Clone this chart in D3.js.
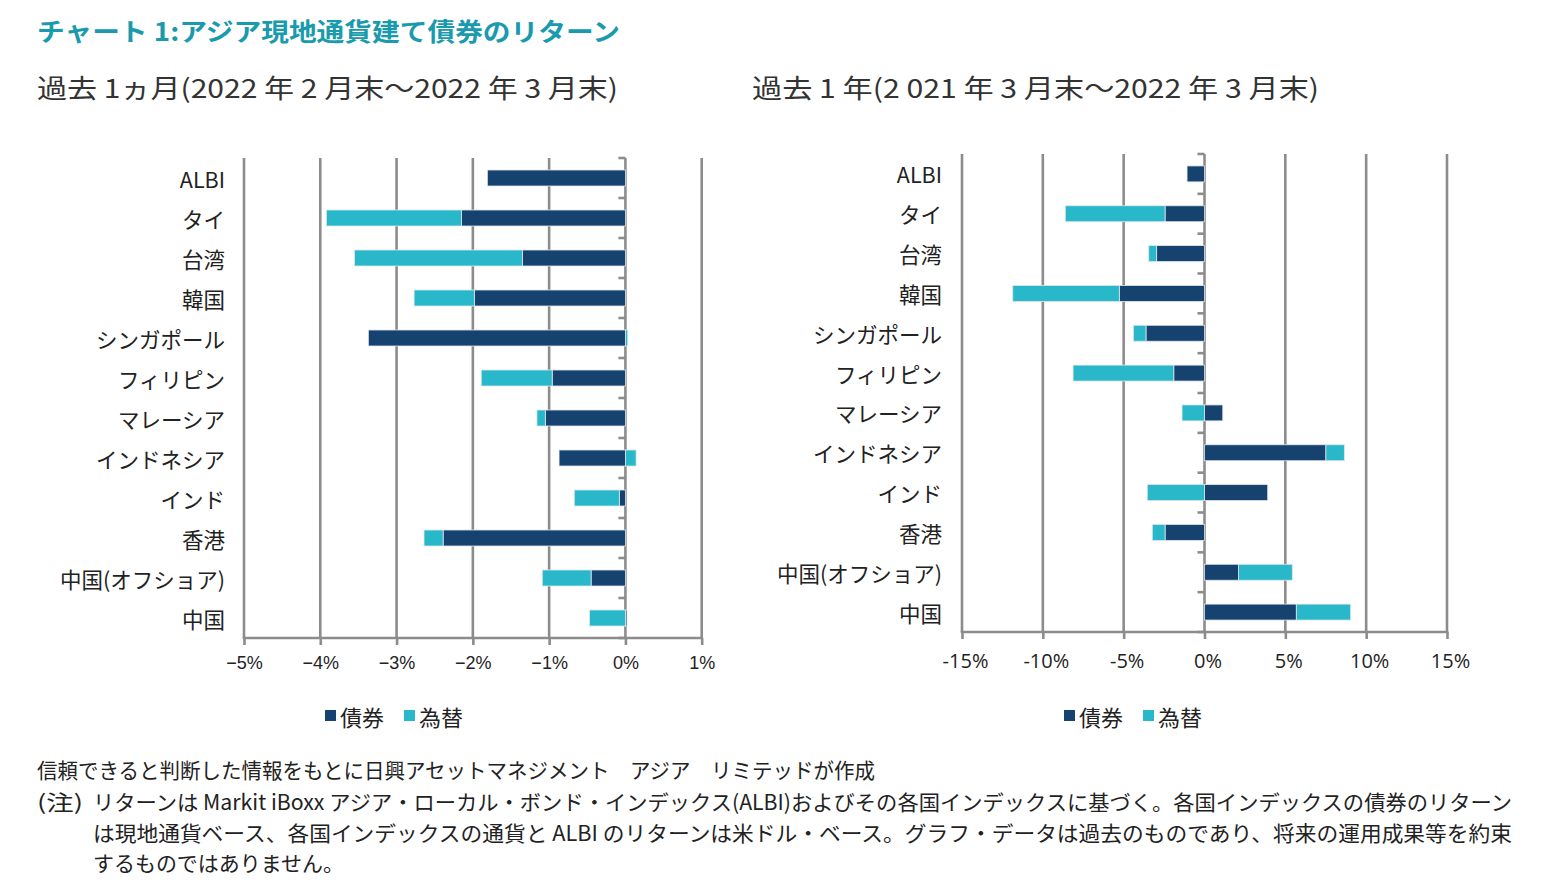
<!DOCTYPE html>
<html><head><meta charset="utf-8">
<script src="https://cdn.jsdelivr.net/npm/d3@7"></script>
<style>
html,body{margin:0;padding:0;background:#fff;}
svg{display:block;}
</style></head>
<body>
<svg id="c" width="1544" height="893"></svg>
<script>
const categories = ["ALBI","タイ","台湾","韓国","シンガポール","フィリピン","マレーシア","インドネシア","インド","香港","中国(オフショア)","中国"];
// 過去1ヵ月 (%)
const bond1m = [-1.81,-2.15,-1.35,-1.98,-3.37,-0.96,-1.05,-0.87,-0.08,-2.39,-0.45,0.02];
const fx1m   = [0.00,-1.77,-2.20,-0.79,0.03,-0.93,-0.11,0.14,-0.59,-0.25,-0.64,-0.47];
// 過去1年 (%)
const bond1y = [-1.08,-2.44,-2.96,-5.27,-3.62,-1.90,1.13,7.51,3.91,-2.44,2.11,5.68];
const fx1y   = [0.00,-6.17,-0.49,-6.59,-0.78,-6.23,-1.39,1.14,-3.54,-0.79,3.32,3.36];
const ticks1m = [-5,-4,-3,-2,-1,0,1];
const tickLabels1m = ["−5%","−4%","−3%","−2%","−1%","0%","1%"];
const ticks1y = [-15,-10,-5,0,5,10,15];
const tickLabels1y = ["-15%","-10%","-5%","0%","5%","10%","15%"];
const seriesNames = ["債券","為替"];
const seriesKeys = ["bond","fx"];

const colors = {bond:"#15426f", fx:"#29b7ca"};
const gridColor = "#8c8c8c";
const jp = "'Noto Sans CJK JP', sans-serif";
const svg = d3.select("#c");

function drawChart(opt){
  const rows = categories.map((c,i)=>({cat:c, bond:opt.bond[i], fx:opt.fx[i]}));
  const x = d3.scaleLinear().domain(opt.domain).range([opt.x0, opt.x1]);
  const y = d3.scaleBand().domain(categories).range([opt.y0, opt.y1]).paddingInner(0.6).paddingOuter(0.3);
  const yb = d3.scaleBand().domain(categories).range([opt.y0, opt.y1]);
  const g = svg.append("g");
  // gridlines
  g.selectAll("line.grid").data(opt.ticks).join("line")
    .attr("x1",d=>x(d)).attr("x2",d=>x(d)).attr("y1",opt.y0).attr("y2",opt.y1)
    .attr("stroke",gridColor).attr("stroke-width",2.6);
  // bottom axis
  const ax = g.append("g").attr("transform",`translate(0,${opt.y1})`)
    .call(d3.axisBottom(x).tickValues(opt.ticks).tickSize(7).tickPadding(opt.tickPad)
      .tickFormat((d,i)=>opt.tickLabels[i]));
  ax.select(".domain").attr("stroke",gridColor).attr("stroke-width",2.6)
    .attr("d",`M${opt.x0-1.3},0H${opt.x1+1.3}`);
  ax.selectAll(".tick line").attr("stroke",gridColor).attr("stroke-width",2.6);
  ax.selectAll(".tick text").attr("fill","#222").attr("font-family",opt.tickFont)
    .attr("font-size",opt.tickSize).attr("dx",opt.tickDx||0);
  // category ticks at zero
  const bounds = categories.map(c=>yb(c)).concat([opt.y1]);
  g.selectAll("line.ctick").data(bounds).join("line")
    .attr("x1",x(0)-7).attr("x2",x(0)).attr("y1",d=>d).attr("y2",d=>d)
    .attr("stroke",gridColor).attr("stroke-width",2.6);
  // bars
  const stack = d3.stack().keys(seriesKeys).offset(d3.stackOffsetDiverging)(rows);
  stack.forEach(s=>{
    g.append("g").selectAll("rect").data(s).join("rect")
      .attr("x",d=>x(Math.min(d[0],d[1])))
      .attr("width",d=>Math.abs(x(d[1])-x(d[0])))
      .attr("y",d=>y(d.data.cat)).attr("height",y.bandwidth())
      .attr("fill",colors[s.key])
      .attr("stroke",d=>Math.abs(d[1]-d[0])>0?"#dfe5ea":"none").attr("stroke-width",0.8);
  });
  // category labels
  g.selectAll("text.cat").data(categories).join("text")
    .attr("x",opt.labelX).attr("y",d=>yb(d)+yb.bandwidth()/2)
    .attr("text-anchor","end").attr("dominant-baseline","central")
    .attr("font-family",jp).attr("font-size",21.5).attr("fill","#222").text(d=>d);
  // legend
  const lg = g.append("g").attr("transform",`translate(${opt.legendX},716)`);
  const items = [{k:"bond",n:seriesNames[0],dx:0},{k:"fx",n:seriesNames[1],dx:79}];
  items.forEach(it=>{
    lg.append("rect").attr("x",it.dx).attr("y",-6).attr("width",11).attr("height",11).attr("fill",colors[it.k]);
    lg.append("text").attr("x",it.dx+15).attr("y",0).attr("dominant-baseline","central")
      .attr("font-family",jp).attr("font-size",22).attr("fill","#222").text(it.n);
  });
}

drawChart({bond:bond1m, fx:fx1m, domain:[-5,1], x0:244, x1:701.7, y0:158, y1:638,
  ticks:ticks1m, tickLabels:tickLabels1m, tickFont:"'Liberation Sans Narrow','Arial Narrow','Liberation Sans',sans-serif",
  tickSize:18, tickPad:11, labelX:225, legendX:325});
drawChart({bond:bond1y, fx:fx1y, domain:[-15,15], x0:962, x1:1447, y0:154, y1:632,
  ticks:ticks1y, tickLabels:tickLabels1y, tickFont:"'Open Sans','Noto Sans',sans-serif",
  tickSize:20, tickPad:15, tickDx:3, labelX:942, legendX:1064});

// titles
function txt(s,x,y,size,opts={}){
  const t = svg.append("text").attr("x",x).attr("y",y).attr("font-family",jp)
    .attr("font-size",size).attr("fill",opts.fill||"#222").attr("dominant-baseline","central").text(s);
  if(opts.bold) t.attr("font-weight","bold");
  if(opts.w){ t.attr("textLength",opts.w).attr("lengthAdjust","spacingAndGlyphs"); }
  return t;
}
txt("チャート 1:アジア現地通貨建て債券のリターン",37,30,25,{fill:"#1a9aad",bold:true,w:583});
txt("過去 1ヵ月(2022 年 2 月末〜2022 年 3 月末)",37,86,26,{fill:"#333",w:581});
txt("過去 1 年(2 021 年 3 月末〜2022 年 3 月末)",752,86,26,{fill:"#333",w:567});
// footnotes
txt("信頼できると判断した情報をもとに日興アセットマネジメント　アジア　リミテッドが作成",37,769,21,{w:838});
txt("(注)",37,801,21,{w:46});
txt("リターンは Markit iBoxx アジア・ローカル・ボンド・インデックス(ALBI)およびその各国インデックスに基づく。各国インデックスの債券のリターン",93,801,21,{w:1419});
txt("は現地通貨ベース、各国インデックスの通貨と ALBI のリターンは米ドル・ベース。グラフ・データは過去のものであり、将来の運用成果等を約束",93,832,21,{w:1419});
txt("するものではありません。",93,862,21,{w:251});
</script>
</body></html>
